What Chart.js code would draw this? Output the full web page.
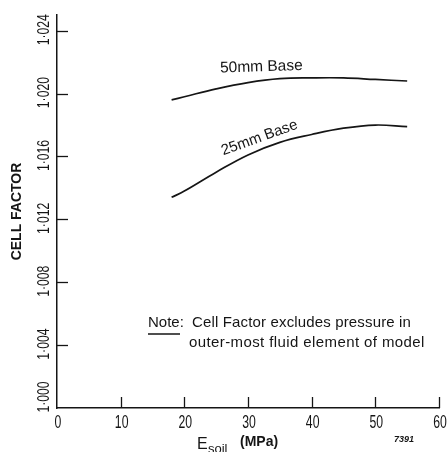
<!DOCTYPE html>
<html>
<head>
<meta charset="utf-8">
<script src="https://cdn.jsdelivr.net/npm/chart.js@4.4.1/dist/chart.umd.min.js"></script>
<style>
html,body{margin:0;padding:0;background:#fff;}
#wrap{position:relative;width:447px;height:452px;}
</style>
</head>
<body>
<div id="wrap"><canvas id="c" width="447" height="452"></canvas></div>
<script>
// ---- data ----
const eSoil = [18, 20, 25, 30, 35, 40, 45, 50, 55];
const base50mm = [1.0196, 1.0198, 1.0203, 1.0207, 1.02095, 1.0210, 1.0210, 1.0209, 1.0208];
const base25mm = [1.0134, 1.0138, 1.0150, 1.0161, 1.0169, 1.0174, 1.0178, 1.0180, 1.0179];
const xTicks = [10, 20, 30, 40, 50, 60];
const xTickLabels = ['0', '10', '20', '30', '40', '50', '60'];
const xLabelValues = [0, 10, 20, 30, 40, 50, 60];
const yTicks = [1.000, 1.004, 1.008, 1.012, 1.016, 1.020, 1.024];
const yTickLabels = ['1·000', '1·004', '1·008', '1·012', '1·016', '1·020', '1·024'];
const seriesLabels = ['50mm Base', '25mm Base'];
const noteLine1 = 'Cell Factor excludes pressure in';
const noteLine2 = 'outer-most fluid element of model';

const INK = '#151515';
const SANS = '"Liberation Sans", Arial, sans-serif';

const toPts = (xs, ys) => xs.map((x, i) => ({x: x, y: ys[i]}));

function condensedText(ctx, txt, x, y, sx) {
  ctx.save();
  ctx.translate(x, y);
  ctx.scale(sx, 1);
  ctx.fillText(txt, 0, 0);
  ctx.restore();
}

const decor = {
  id: 'decor',
  afterDraw(chart) {
    const ctx = chart.ctx;
    const xs = chart.scales.x, ys = chart.scales.y;
    const ca = chart.chartArea;
    ctx.save();
    ctx.strokeStyle = INK;
    ctx.fillStyle = INK;
    ctx.lineWidth = 1.3;
    // inward tick marks
    xTicks.forEach(v => {
      const px = Math.round(xs.getPixelForValue(v)) + 0.5;
      ctx.beginPath(); ctx.moveTo(px, ca.bottom); ctx.lineTo(px, ca.bottom - 11); ctx.stroke();
    });
    yTicks.forEach(v => {
      if (v === 1.0) return;
      const py = Math.round(ys.getPixelForValue(v)) + 0.5;
      ctx.beginPath(); ctx.moveTo(ca.left, py); ctx.lineTo(ca.left + 11, py); ctx.stroke();
    });
    // x tick labels (condensed)
    ctx.font = '18px ' + SANS;
    ctx.textAlign = 'center';
    ctx.textBaseline = 'alphabetic';
    xLabelValues.forEach((v, i) => {
      const px = xs.getPixelForValue(v) + 1;
      condensedText(ctx, xTickLabels[i], px, 428, 0.68);
    });
    // rotated y tick labels (condensed)
    ctx.font = '16px ' + SANS;
    ctx.textAlign = 'center';
    ctx.textBaseline = 'middle';
    yTicks.forEach((v, i) => {
      const py = ys.getPixelForValue(v) - (i === 0 ? 11 : 1);
      ctx.save();
      ctx.translate(45, py);
      ctx.rotate(-Math.PI / 2);
      ctx.scale(0.76, 1);
      ctx.fillText(yTickLabels[i], 0, 0);
      ctx.restore();
    });
    // curve labels
    ctx.font = '15.5px ' + SANS;
    ctx.save();
    ctx.translate(xs.getPixelForValue(32.1), ys.getPixelForValue(1.0217));
    ctx.rotate(-0.03);
    ctx.fillText(seriesLabels[0], 0, 0);
    ctx.restore();
    ctx.save();
    ctx.translate(xs.getPixelForValue(31.8), ys.getPixelForValue(1.01718));
    ctx.rotate(-0.345);
    ctx.font = '15px ' + SANS;
    ctx.fillText(seriesLabels[1], 0, 0);
    ctx.restore();
    // note
    ctx.textAlign = 'left';
    ctx.textBaseline = 'alphabetic';
    ctx.font = '15px ' + SANS;
    ctx.fillText('Note:', 148, 327);
    ctx.letterSpacing = '0.15px';
    ctx.fillText(noteLine1, 192, 327);
    ctx.letterSpacing = '0.4px';
    ctx.fillText(noteLine2, 189, 347);
    ctx.letterSpacing = '0px';
    ctx.lineWidth = 1.5;
    ctx.beginPath(); ctx.moveTo(148, 334); ctx.lineTo(180, 334); ctx.stroke();
    // x axis title E_soil (MPa)
    ctx.font = '16px ' + SANS;
    ctx.fillText('E', 197, 449);
    ctx.font = '13px ' + SANS;
    ctx.fillText('soil', 208, 453);
    ctx.font = 'bold 14px ' + SANS;
    ctx.fillText('(MPa)', 240, 446);
    // figure number
    ctx.font = 'italic bold 9px ' + SANS;
    ctx.fillText('7391', 394, 442);
    ctx.restore();
  }
};

new Chart(document.getElementById('c'), {
  type: 'line',
  data: {
    datasets: [
      {label: seriesLabels[0], data: toPts(eSoil, base50mm), borderColor: INK, borderWidth: 1.7,
       pointRadius: 0, tension: 0.4, fill: false},
      {label: seriesLabels[1], data: toPts(eSoil, base25mm), borderColor: INK, borderWidth: 1.7,
       pointRadius: 0, tension: 0.4, fill: false}
    ]
  },
  options: {
    responsive: false,
    animation: false,
    events: [],
    layout: {padding: {left: 0, top: 15, right: 8, bottom: 0}},
    plugins: {legend: {display: false}, tooltip: {enabled: false}},
    scales: {
      x: {
        type: 'linear', min: 0, max: 60,
        afterFit(s) { s.height = 44; },
        afterBuildTicks(s) { s.ticks = [0].concat(xTicks).map(v => ({value: v})); },
        grid: {display: true, drawOnChartArea: false, drawTicks: false},
        border: {display: true, color: INK, width: 1.5},
        ticks: {display: false}
      },
      y: {
        type: 'linear', min: 1.000, max: 1.025,
        afterFit(s) { s.width = 57; },
        afterBuildTicks(s) { s.ticks = yTicks.map(v => ({value: v})); },
        grid: {display: true, drawOnChartArea: false, drawTicks: false},
        border: {display: true, color: INK, width: 1.5},
        ticks: {display: false},
        title: {display: true, text: 'CELL FACTOR', color: INK, padding: {top: 9, bottom: 0},
                font: {family: SANS, size: 14, weight: 'bold'}}
      }
    }
  },
  plugins: [decor]
});
</script>
</body>
</html>
